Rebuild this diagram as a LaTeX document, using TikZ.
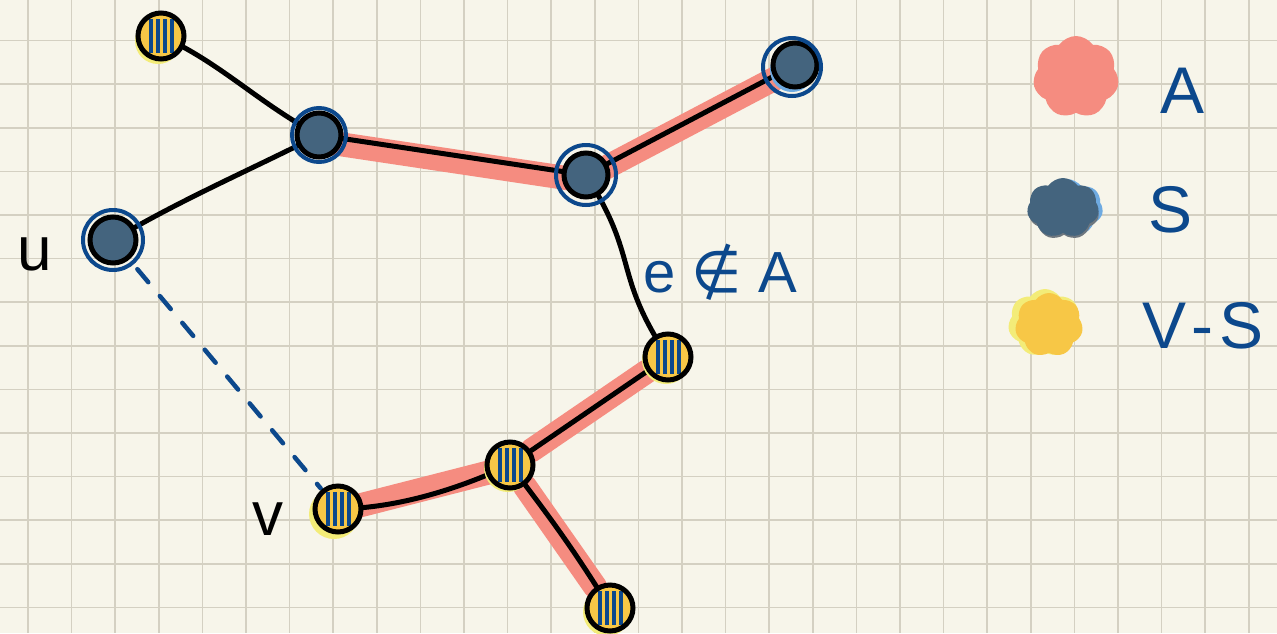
\documentclass[tikz,border=0pt]{standalone}
\usepackage{fontspec}
\setmainfont{Liberation Sans}
\newfontfamily\symfont{DejaVu Sans}
\usetikzlibrary{shapes.symbols}
\pgfdeclarelayer{gridlayer}
\pgfdeclarelayer{hllayer}
\pgfdeclarelayer{edgelayer}
\pgfsetlayers{gridlayer,hllayer,edgelayer,main}
\definecolor{paper}{RGB}{247,245,234}
\definecolor{gridc}{RGB}{212,208,194}
\definecolor{ink}{RGB}{12,72,140}
\definecolor{hl}{RGB}{245,140,128}
\definecolor{darkfill}{RGB}{68,100,126}
\definecolor{yfill}{RGB}{247,199,70}
\definecolor{halo}{RGB}{243,236,120}
\definecolor{lightblue}{RGB}{110,170,225}
\tikzset{
  snode/.style={circle, draw=black, line width=5pt, fill=darkfill, minimum size=44pt, inner sep=0pt},
  ynode/.style={circle, draw=black, line width=5pt, fill=yfill, minimum size=46pt, inner sep=0pt,
    path picture={
      \foreach \dx in {-10,-3,4,11}
        \draw[ink, line width=3.2pt] ([xshift=\dx pt, yshift=-6pt]path picture bounding box.north) -- ([xshift=\dx pt, yshift=6pt]path picture bounding box.south);
    }},
  ring/.style={draw=ink, line width=4pt},
  hledge/.style={draw=hl, line width=24pt, line cap=round},
  edge/.style={draw=black, line width=5pt, line cap=round},
  dashedge/.style={draw=ink, line width=4.5pt, dash pattern=on 17pt off 18pt, line cap=round},
  bluetext/.style={text=ink, font=\fontsize{66}{70}\selectfont, inner sep=0pt},
  blacktext/.style={text=black, font=\fontsize{62}{70}\selectfont, inner sep=0pt},
  blob/.style={cloud, cloud puffs=7, cloud puff arc=110, aspect=1, inner sep=0pt},
}
\begin{document}
\begin{tikzpicture}[x=1pt,y=-1pt]
\useasboundingbox (0,0) rectangle (1277,633);
\begin{pgfonlayer}{gridlayer}
  \fill[paper] (0,0) rectangle (1277,633);
  \foreach \i in {0,...,28}
    \draw[gridc, line width=1.6pt] ({28+43.6*\i},0) -- ({28+43.6*\i},633);
  \foreach \j in {0,...,13}
    \draw[gridc, line width=1.6pt] (0,{40.5+43.6*\j}) -- (1277,{40.5+43.6*\j});
\end{pgfonlayer}

% vertices
\node[ynode] (t) at (161,36) {};
\node[snode] (a) at (319,135) {};
\node[snode, minimum size=46pt] (u) at (113,240) {};
\node[snode] (b) at (586,175) {};
\node[snode] (c) at (795,65) {};
\node[ynode] (d) at (668,357) {};
\node[ynode] (m) at (510,465) {};
\node[ynode] (v) at (338,509) {};
\node[ynode] (w) at (610,608) {};

% rings around S vertices
\draw[ring] (a.center) circle[radius=27pt];
\draw[ring] (u.center) circle[radius=30pt];
\draw[ring] (b.center) circle[radius=30pt];
\draw[ring] ([shift={(-3,2)}]c.center) circle[radius=29pt];

% highlighted edges (A)
\begin{pgfonlayer}{hllayer}
  \draw[hledge] ([yshift=-6pt]a.center) -- ([yshift=-6pt]b.center);
  \draw[hledge] ([yshift=-3pt]b.center) -- ([yshift=-3pt]c.center);
  \draw[hledge] (d) -- (m);
  \draw[hledge] ([yshift=-2pt]m.center) -- ([yshift=-2pt]v.center);
  \draw[hledge] (m) -- (w);
\end{pgfonlayer}

% edges
\begin{pgfonlayer}{edgelayer}
  \draw[edge] (t.center) .. controls (220,62) and (262,106) .. (a.center);
  \draw[edge] (a.center) .. controls (250,170) and (180,200) .. (u.center);
  \draw[edge] (a.center) -- (b.center);
  \draw[edge] (b.center) -- (c.center);
  \draw[edge] (b.center) .. controls (640,260) and (612,272) .. (d.center);
  \draw[edge] (d.center) -- (m.center);
  \draw[edge] (m.center) .. controls (460,488) and (400,508) .. (v.center);
  \draw[edge] (m.center) .. controls (560,530) and (580,560) .. (w.center);
  \draw[dashedge, shorten <=38pt, shorten >=27pt] (u.center) -- (v.center);
  % halos
  \fill[halo] ([shift={(-3,5)}]t.center) circle[radius=23pt];
  \fill[halo] ([shift={(-4,5)}]v.center) circle[radius=25pt];
  \fill[halo] ([shift={(-3,4)}]w.center) circle[radius=24pt];
  \fill[halo] ([shift={(-2,3)}]d.center) circle[radius=24pt];
  \fill[halo] ([shift={(-2,3)}]m.center) circle[radius=24pt];
  \fill[lightblue] ([shift={(-3,5)}]c.center) circle[radius=22pt];
\end{pgfonlayer}

% labels
\node[blacktext] (lu) at (35,254) {u};
\node[blacktext] (lv) at (268,519) {v};
\node[bluetext, anchor=base, font=\fontsize{58}{64}\selectfont] (le) at (720,292) {e {\symfont ∉} A};

% legend
\node[blob, fill=hl, minimum width=86pt, minimum height=82pt] (kA) at (1076,77) {};
\node[blob, fill=lightblue, minimum width=72pt, minimum height=58pt] (kS2) at (1067,208) {};
\node[blob, fill=gray!70!darkfill, minimum width=70pt, minimum height=56pt] (kS3) at (1064,212) {};
\node[blob, fill=darkfill, minimum width=72pt, minimum height=60pt] (kS) at (1063,208) {};
\node[blob, fill=halo, minimum width=74pt, minimum height=68pt] (kV2) at (1045,323) {};
\node[blob, fill=yfill, minimum width=68pt, minimum height=64pt] (kV) at (1049,325) {};
\node[bluetext, anchor=base] (tA) at (1182,113) {A};
\node[bluetext, anchor=base] (tS) at (1170,232) {S};
\node[bluetext, anchor=base] (tVS) at (1203,348) {V\kern6pt-\kern6pt S};
\end{tikzpicture}
\end{document}
